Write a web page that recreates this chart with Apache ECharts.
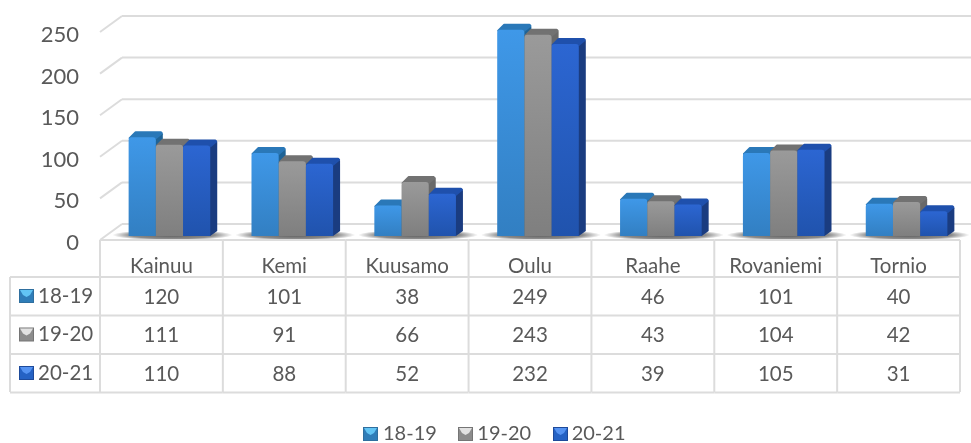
<!DOCTYPE html>
<html>
<head>
<meta charset="utf-8">
<style>
    html, body { margin: 0; padding: 0; background: #fff; }
    #chart { width: 971px; height: 443px; }
</style>
<script src="https://cdn.jsdelivr.net/npm/echarts@6/dist/echarts.min.js"></script>
</head>
<body>
<div id="chart"></div>
<script>
const categories = ['Kainuu', 'Kemi', 'Kuusamo', 'Oulu', 'Raahe', 'Rovaniemi', 'Tornio']
const seriesNames = ['18-19', '19-20', '20-21']
const values1819 = [120, 101, 38, 249, 46, 101, 40]
const values1920 = [111, 91, 66, 243, 43, 104, 42]
const values2021 = [110, 88, 52, 232, 39, 105, 31]
const yTicks = [0, 50, 100, 150, 200, 250]

const seriesValues = [values1819, values1920, values2021]

const textColor = '#595959'
const lineColor = '#dcdcdc'
const fontFamily = 'Lato, "Open Sans", sans-serif'

// 立体柱 colours: front top/bottom, side, roof, key top
const palette = [
    { front: ['#3f98e8', '#327fc2'], side: '#1f6396', roof: '#2a78b8', keyTop: '#62c4f4', key: '#2f7db8', edge: '#2f6f9f' },
    { front: ['#9a9a9a', '#7f7f7f'], side: '#696969', roof: '#727272', keyTop: '#e2e2e2', key: '#8c8c8c', edge: '#757575' },
    { front: ['#2c66d2', '#2053ad'], side: '#1a3c80', roof: '#1f50ac', keyTop: '#5593f2', key: '#2562c4', edge: '#1e4a9a' }
]

const barWidth = 27.2
const groupShift = 8
const depthX = 7
const depthY = 6
const baseLift = 4
const wallX = 22
const wallY = 16
const rowTop = [277, 315.5, 354]
const rowHeight = 38.5
const tableBottom = 392
const tableLeft = 10

function line (x1, y1, x2, y2, width) {
    return {
        type: 'line',
        shape: { x1, y1, x2, y2 },
        style: { stroke: lineColor, lineWidth: width || 2 }
    }
}

function key (x, y, c) {
    const w = 15
    const h = 14
    const m = 1
    return {
        type: 'group',
        children: [
            { type: 'rect', shape: { x, y, width: w, height: h }, style: { fill: c.edge } },
            { type: 'rect', shape: { x: x + m, y: y + m, width: w - 2 * m, height: h - 2 * m }, style: { fill: c.key } },
            {
                type: 'polygon',
                shape: { points: [[x + m, y + m], [x + w - m, y + m], [x + w - 4, y + 6], [x + w / 2, y + 8], [x + 4, y + 6]] },
                style: { fill: c.keyTop }
            }
        ]
    }
}

// 背景墙
function renderWall (params, api) {
    const y = api.coord([0, api.value(0)])[1]
    const left = params.coordSys.x
    const right = api.getWidth()
    return {
        type: 'group',
        children: [
            line(left, y, left + wallX, y - wallY),
            line(left + wallX, y - wallY, right, y - wallY)
        ]
    }
}

function renderShadow (params, api) {
    const c = api.coord([api.value(0), 0])
    return {
        type: 'circle',
        x: c[0] + groupShift + 3,
        y: c[1] - baseLift - 1,
        scaleY: 0.09,
        shape: { cx: 0, cy: 0, r: 60 },
        style: {
            fill: {
                type: 'radial', x: 0.5, y: 0.5, r: 0.5,
                colorStops: [
                    { offset: 0, color: 'rgba(0,0,0,0.65)' },
                    { offset: 0.7, color: 'rgba(0,0,0,0.45)' },
                    { offset: 1, color: 'rgba(0,0,0,0)' }
                ]
            }
        }
    }
}

function renderBar (seriesIndex) {
    return function (params, api) {
        const c = palette[seriesIndex]
        const base = api.coord([api.value(0), 0])
        const top = api.coord([api.value(0), api.value(1)])
        const x = base[0] + groupShift + (seriesIndex - 1.5) * barWidth
        const y0 = base[1] - baseLift
        const y1 = top[1] - baseLift + 1
        return {
            type: 'group',
            children: [
                {
                    type: 'polygon',
                    shape: { points: [[x + barWidth - 1, y0], [x + barWidth - 1, y1], [x + barWidth + depthX - 1, y1 - depthY + 1], [x + barWidth + depthX, y1 - depthY + 3], [x + barWidth + depthX, y0 - depthY + 1], [x + barWidth, y0]] },
                    style: { fill: c.side }
                },
                {
                    type: 'polygon',
                    shape: { points: [[x + 1, y1 + 1], [x + depthX, y1 - depthY + 1], [x + barWidth + depthX - 2, y1 - depthY + 1], [x + barWidth + depthX - 1, y1 - depthY + 2], [x + barWidth, y1 + 1]] },
                    style: { fill: c.roof, stroke: c.roof, lineWidth: 2, lineJoin: 'round' }
                },
                {
                    type: 'rect',
                    shape: { x, y: y1, width: barWidth, height: y0 - y1, r: [3, 3, 0, 0] },
                    style: {
                        fill: {
                            type: 'linear', x: 0, y: 0, x2: 0, y2: 1,
                            colorStops: [
                                { offset: 0, color: c.front[0] },
                                { offset: 1, color: c.front[1] }
                            ]
                        }
                    }
                }
            ]
        }
    }
}

// 数据表格
function renderTable (params, api) {
    const i = api.value(0)
    const c = api.coord([i, 0])
    const cell = api.size([1, 0])[0]
    const right = c[0] + cell / 2
    const children = [
        line(right, c[1], right, tableBottom),
        line(right - cell, c[1], right, c[1])
    ]
    seriesValues.forEach((values, r) => {
        children.push({
            type: 'text',
            style: {
                x: c[0], y: rowTop[r] + rowHeight / 2 + 1,
                text: String(values[i]),
                fill: textColor,
                font: '20.5px ' + fontFamily,
                align: 'center',
                verticalAlign: 'middle'
            }
        })
        children.push(line(right - cell, rowTop[r] + rowHeight, right, rowTop[r] + rowHeight))
    })
    children.push(line(right - cell, rowTop[0], right, rowTop[0]))
    if (i === 0) {
        children.push(line(right - cell, c[1], right - cell, tableBottom))
        children.push(line(tableLeft, rowTop[0], tableLeft, tableBottom))
        children.push(line(tableLeft, rowTop[0], right - cell, rowTop[0]))
        seriesNames.forEach((name, r) => {
            children.push(line(tableLeft, rowTop[r] + rowHeight, right - cell, rowTop[r] + rowHeight))
            children.push(key(19, rowTop[r] + 12, palette[r]))
            children.push({
                type: 'text',
                style: {
                    x: 38, y: rowTop[r] + rowHeight / 2,
                    text: name,
                    fill: textColor,
                    font: '20.5px ' + fontFamily,
                    align: 'left',
                    verticalAlign: 'middle'
                }
            })
        })
    }
    return { type: 'group', children }
}

// 图例方块的高光
function renderLegendKeys (params, api) {
    const keyX = [363, 458, 553]
    return {
        type: 'group',
        children: keyX.map((x, r) => key(x, 427, palette[r]))
    }
}

const chart = echarts.init(document.getElementById('chart'), null, { renderer: 'canvas' })

chart.setOption({
    animation: false,
    backgroundColor: '#fff',
    textStyle: { fontFamily },
    grid: { left: 100, width: 860, top: 32, height: 208 },
    legend: {
        left: 363,
        top: 419,
        itemWidth: 10,
        itemHeight: 10,
        itemGap: 25.5,
        icon: 'rect',
        data: seriesNames,
        selectedMode: false,
        textStyle: { color: textColor, fontSize: 20, fontFamily }
    },
    xAxis: {
        type: 'category',
        data: categories,
        axisLine: { show: false },
        axisTick: { show: false },
        axisLabel: { color: textColor, fontSize: 20.5, fontFamily, margin: 16 }
    },
    yAxis: {
        type: 'value',
        min: 0,
        max: 250,
        interval: 50,
        axisLine: { show: false },
        axisTick: { show: false },
        splitLine: { show: false },
        axisLabel: { color: textColor, fontSize: 22, fontFamily, margin: 21, verticalAlign: 'top', lineHeight: 6 }
    },
    series: [
        {
            type: 'custom',
            name: 'wall',
            silent: true,
            z: 1,
            renderItem: renderWall,
            encode: { y: 0 },
            data: yTicks.map(v => [v])
        },
        {
            type: 'custom',
            name: 'shadow',
            silent: true,
            z: 2,
            renderItem: renderShadow,
            encode: { x: 0 },
            data: categories.map((c, i) => [i])
        },
        ...seriesNames.map((name, s) => ({
            type: 'custom',
            name,
            z: 3 + s,
            itemStyle: { color: palette[s].key },
            renderItem: renderBar(s),
            encode: { x: 0, y: 1 },
            data: seriesValues[s].map((v, i) => [i, v])
        })),
        {
            type: 'custom',
            name: 'table',
            silent: true,
            z: 7,
            renderItem: renderTable,
            encode: { x: 0 },
            data: categories.map((c, i) => [i])
        },
        {
            type: 'custom',
            name: 'legendKeys',
            silent: true,
            z: 8,
            renderItem: renderLegendKeys,
            data: [[0]]
        }
    ]
})
</script>
</body>
</html>
